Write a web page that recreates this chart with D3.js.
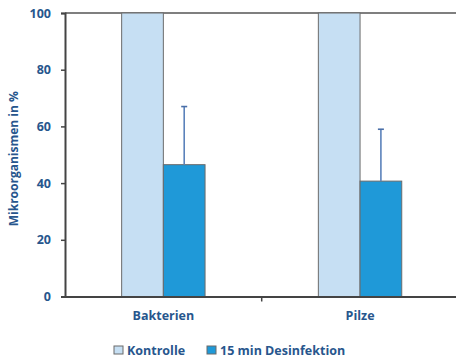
<!DOCTYPE html>
<html><head><meta charset="utf-8">
<script src="https://cdn.jsdelivr.net/npm/d3@7"></script>
<style>body{margin:0;background:#fff}svg{display:block}text{font-family:"Open Sans",Arial,sans-serif;font-weight:700;fill:#27568d}</style>
</head><body><svg id="c" width="456" height="361"></svg>
<script>
const categories = ["Bakterien", "Pilze"];
const seriesNames = ["Kontrolle", "15 min Desinfektion"];
const kontrolle = [100, 100];
const desinfektion = [46.5, 40.7];
const desinfektionErr = [20.5, 18.3];
const yTicks = [0, 20, 40, 60, 80, 100];
const colors = ["#c6dff3", "#1f99d8"];

const svg = d3.select("#c");
const L = 65, R = 458.4, T = 13, B = 296.5;
const FS = "12.5px";
const x = d3.scaleBand().domain(categories).range([L, R]).paddingInner(0.576).paddingOuter(0.288);
const xs = d3.scaleBand().domain(seriesNames).range([0, x.bandwidth()]);
const y = d3.scaleLinear().domain([0, 100]).range([B, T]);

svg.append("line").attr("x1", L).attr("x2", 456).attr("y1", T).attr("y2", T)
  .attr("stroke", "#555").attr("stroke-width", 1.5);

const data = [kontrolle, desinfektion];
categories.forEach((c, i) => {
  data.forEach((arr, s) => {
    svg.append("rect")
      .attr("x", x(c) + xs(seriesNames[s]))
      .attr("y", y(arr[i]))
      .attr("width", xs.bandwidth())
      .attr("height", y(0) - y(arr[i]))
      .attr("fill", colors[s])
      .attr("stroke", "#6b6b6b").attr("stroke-width", 1);
  });
  const cx = x(c) + xs(seriesNames[1]) + xs.bandwidth() / 2;
  svg.append("line").attr("x1", cx).attr("x2", cx)
    .attr("y1", y(desinfektion[i])).attr("y2", y(desinfektion[i] + desinfektionErr[i]))
    .attr("stroke", "#5b82bb").attr("stroke-width", 1.6);
  svg.append("line").attr("x1", cx - 3).attr("x2", cx + 3)
    .attr("y1", y(desinfektion[i] + desinfektionErr[i])).attr("y2", y(desinfektion[i] + desinfektionErr[i]))
    .attr("stroke", "#4a6fa8").attr("stroke-width", 1.6);
});

const ya = svg.append("g").attr("transform", `translate(${L},0)`)
  .call(d3.axisLeft(y).tickValues(yTicks).tickSize(4).tickPadding(10));
ya.select(".domain").attr("stroke", "#444").attr("stroke-width", 2);
ya.selectAll(".tick line").attr("stroke", "#444").attr("stroke-width", 1.5);
ya.selectAll(".tick text").style("font-size", FS).style("fill", "#27568d");

const xa = svg.append("g").attr("transform", `translate(0,${B})`)
  .call(d3.axisBottom(x).tickSize(0).tickPadding(15));
xa.select(".domain").attr("stroke", "#444").attr("stroke-width", 2);
xa.selectAll(".tick text").style("font-size", FS).style("fill", "#27568d");
svg.append("line").attr("x1", x.step() + L).attr("x2", x.step() + L)
  .attr("y1", B).attr("y2", B + 5).attr("stroke", "#444").attr("stroke-width", 1.5);

svg.append("text").attr("transform", `translate(18,${(T + B) / 2 + 4}) rotate(-90)`)
  .attr("text-anchor", "middle").style("font-size", "12px").text("Mikroorganismen in %");

const legX = [114, 207];
seriesNames.forEach((n, s) => {
  svg.append("rect").attr("x", legX[s]).attr("y", 346).attr("width", 9).attr("height", 8)
    .attr("fill", colors[s]).attr("stroke", "#6b6b6b").attr("stroke-width", 1);
  svg.append("text").attr("x", legX[s] + 13).attr("y", 355)
    .style("font-size", FS).text(n);
});
</script></body></html>
